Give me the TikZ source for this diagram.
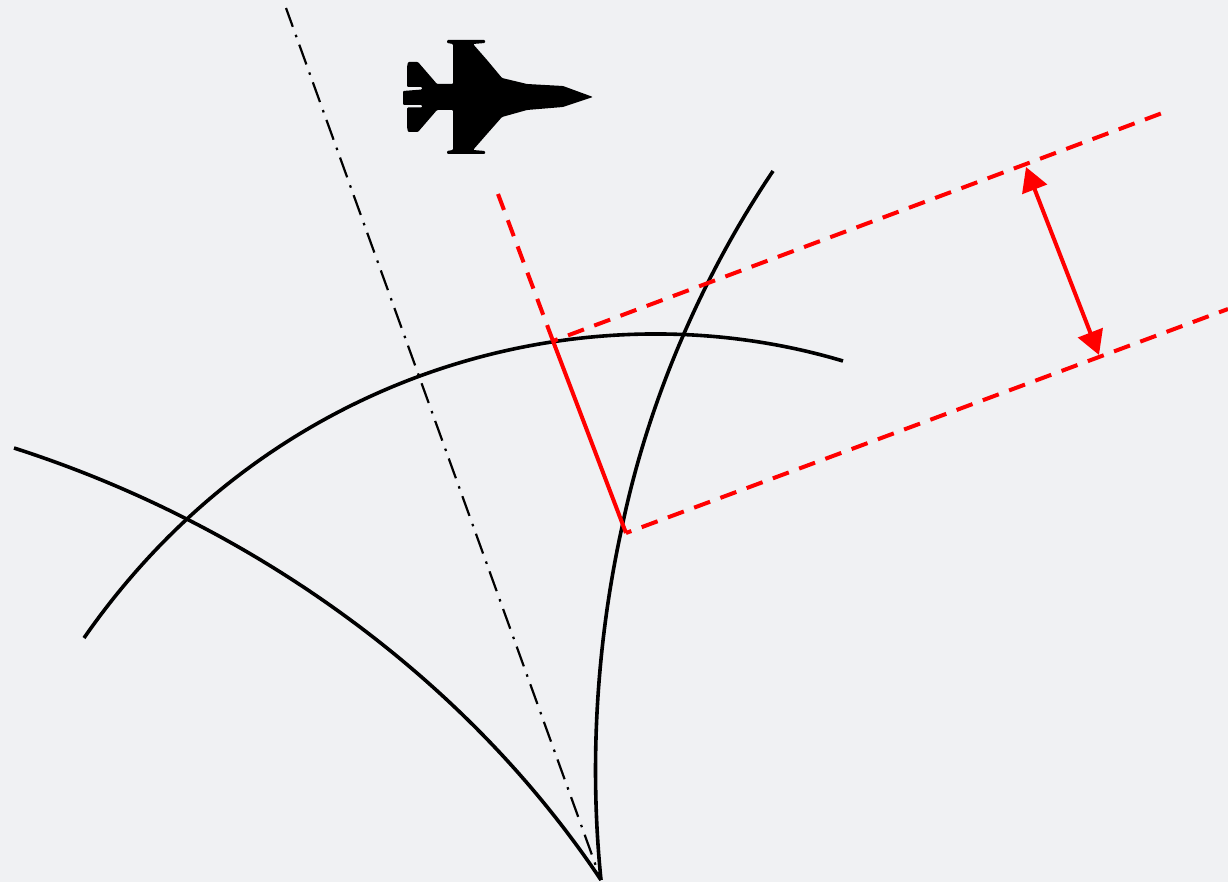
\documentclass[tikz,border=0pt]{standalone}
\usetikzlibrary{arrows.meta}
\definecolor{panelgrey}{HTML}{F0F1F3}
\tikzset{
  wave front/.style={line width=3.6pt,black},
  centre line/.style={line width=2.2pt,dash pattern=on 21pt off 8.5pt on 2.5pt off 8pt,dash phase=1pt},
  ray solid/.style={line width=4pt,red},
  ray dashed/.style={line width=4pt,red,dash pattern=on 17pt off 11pt},
  gap arrow/.style={line width=4pt,red,{Triangle[length=24pt,width=26pt]}-{Triangle[length=24pt,width=26pt]}}
}
\begin{document}
\begin{tikzpicture}[x=1pt,y=-1pt]
      \fill[panelgrey] (0,0) rectangle (1228,882);
      \useasboundingbox (0,0) rectangle (1228,882);
      \coordinate (apex) at (601,880);
      \coordinate (cnt) at (286,8);
      \coordinate (rayA) at (553,341);
      \coordinate (rayB) at (626,533);
      \coordinate (rayTop) at (498,194);
      \coordinate (endA) at (1161,113.5);
      \coordinate (endB) at (1228,309);
      \coordinate (gapA) at (1026,167);
      \coordinate (gapB) at (1099,355);
      % wave fronts
      \draw[wave front] (14,448) .. controls (245,522) and (462,672) .. (apex);
      \draw[wave front] (84,638) .. controls (270,370) and (585,284) .. (843,361);
      \draw[wave front] (773,171) .. controls (701,278) and (648,402) .. (622,527)
        .. controls (597,640) and (589,762) .. (apex);
      \draw[centre line] (cnt) -- (apex);
      % rays
      \draw[ray dashed] (rayTop) -- (rayA);
      \draw[ray solid] (rayA) -- (rayB);
      \draw[ray dashed,dash phase=12pt] (rayA) -- (endA);
      \draw[ray dashed,dash phase=11.3pt] (rayB) -- (endB);
      \draw[gap arrow] (gapA) -- (gapB);
      % aircraft
      \fill[black,rounded corners=1pt] (593,97) -- (563,86) -- (527,84) -- (502,78) -- (487,60) -- (473,44)
        -- (485,43) -- (485,40) -- (447,40) -- (447,43) -- (453,44) -- (453,84) -- (437,84) -- (418,62)
        -- (408,62) -- (407,67) -- (407,87) -- (422,87) -- (422,89.5) -- (403,91)
        -- (403,105) -- (422,105) -- (422,107.5) -- (407,107.5) -- (407,127) -- (408,132) -- (418,132)
        -- (437,110) -- (453,110) -- (453,150) -- (447,151) -- (447,154) -- (485,154) -- (485,151)
        -- (473,150) -- (487,134) -- (502,117) -- (527,110) -- (563,107) -- cycle;
    \end{tikzpicture}
\end{document}
